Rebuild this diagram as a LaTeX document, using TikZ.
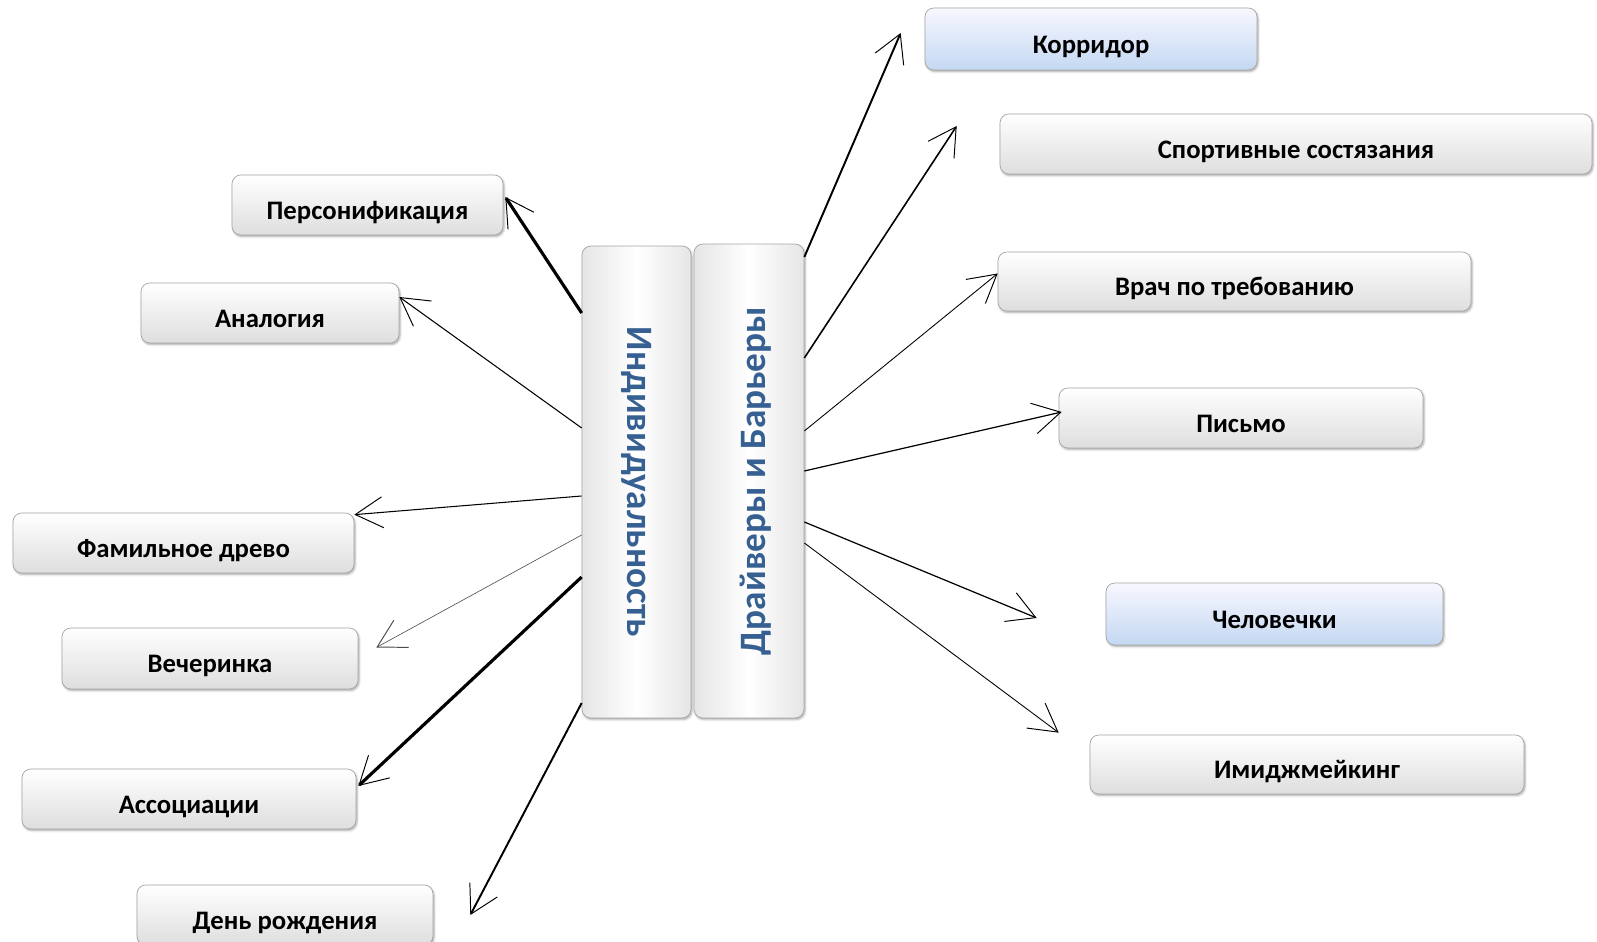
\documentclass[tikz,border=0pt]{standalone}
\usepackage{fontspec}
\setmainfont{Carlito}
\usetikzlibrary{arrows.meta,calc,shadows.blur}
\definecolor{titleblue}{RGB}{55,96,146}
\definecolor{paleblue}{RGB}{196,216,242}
\tikzset{
	item/.style={
			draw=black!35, rounded corners=5pt, top color=white, bottom color=black!13,
			blur shadow={shadow xshift=0.6pt, shadow yshift=-0.9pt, shadow blur radius=1.2pt, shadow opacity=35},
			inner sep=0pt, text height=16pt, text depth=0pt, font=\fontsize{15.2}{18}\selectfont\bfseries
		},
	marked/.style={item, top color=blue!3, bottom color=paleblue},
	column/.style={item, left color=black!10, right color=black!10, middle color=white,
			text height=, text depth=, text=titleblue, font=\fontsize{21.2}{25}\selectfont\bfseries},
	link/.style={-{Straight Barb[length=0.55cm, width=0.62cm, line width=0.55pt 0]}}
}

\begin{document}
\begin{tikzpicture}[x=0.02cm, y=-0.02cm]
			\useasboundingbox (0,0) rectangle (1597,942);

			% central columns
			\node[column, minimum width=2.18cm, minimum height=9.44cm] (indiv) at (636.5,482) {\rotatebox{-90}{Индивидуальность}\hspace{4pt}};
			\node[column, minimum width=2.2cm, minimum height=9.48cm] (drivers) at (749,481) {\hspace{8pt}\rotatebox{90}{Драйверы и Барьеры}};

			% left side
			\node[item, minimum width=5.42cm, minimum height=1.2cm] (person) at (367.5,205) {Персонификация};
			\node[item, minimum width=5.16cm, minimum height=1.2cm] (analog) at (270,313) {Аналогия};
			\node[item, minimum width=6.82cm, minimum height=1.2cm] (family) at (183.5,543) {Фамильное древо};
			\node[item, minimum width=5.92cm, minimum height=1.22cm] (party) at (210,658.5) {Вечеринка};
			\node[item, minimum width=6.68cm, minimum height=1.2cm] (assoc) at (189,799) {Ассоциации};
			\node[item, minimum width=5.92cm, minimum height=1.2cm] (bday) at (285,915) {День рождения};

			% right side
			\node[marked, minimum width=6.64cm, minimum height=1.24cm] (corridor) at (1091,39) {Корридор};
			\node[item, minimum width=11.84cm, minimum height=1.2cm] (sport) at (1296,144) {Спортивные состязания};
			\node[item, minimum width=9.46cm, minimum height=1.18cm] (doctor) at (1234.5,281.5) {Врач по требованию};
			\node[item, minimum width=7.28cm, minimum height=1.2cm] (letter) at (1241,418) {Письмо};
			\node[marked, minimum width=6.74cm, minimum height=1.24cm] (people) at (1274.5,614) {Человечки};
			\node[item, minimum width=8.68cm, minimum height=1.18cm] (image) at (1307,764.5) {Имиджмейкинг};

			\draw[link, line width=1.8pt] ($(indiv.west)+(0,-169)$) to ($(person.east)+(2,-8)$);
			\draw[link, line width=0.6pt] ($(indiv.west)+(0,-54)$) to ($(analog.east)+(0,-16)$);
			\draw[link, line width=0.6pt] ($(indiv.west)+(0,14)$) to ($(family.north east)+(0,2)$);
			\draw[link, line width=0.35pt, black!70] ($(indiv.west)+(0,53)$) to ($(party.east)+(18,-11)$);
			\draw[link, line width=1.8pt] ($(indiv.west)+(0,95)$) to ($(assoc.east)+(2,-13)$);
			\draw[link, line width=1.1pt] ($(indiv.west)+(0,221)$) to ($(bday.east)+(37,0)$);

			\draw[link, line width=1.1pt] ($(drivers.east)+(0,-224)$) to ($(corridor.west)+(-24,-6)$);
			\draw[link, line width=0.9pt] ($(drivers.east)+(0,-123)$) to ($(sport.west)+(-43,-18)$);
			\draw[link, line width=0.5pt] ($(drivers.east)+(0,-50)$) to ($(doctor.west)+(0,-8)$);
			\draw[link, line width=0.7pt] ($(drivers.east)+(0,-10)$) to ($(letter.west)+(3,-6)$);
			\draw[link, line width=0.7pt] ($(drivers.east)+(0,41)$) to ($(people.west)+(-69,4)$);
			\draw[link, line width=0.5pt] ($(drivers.east)+(0,62)$) to ($(image.north west)+(-31,-2)$);
		\end{tikzpicture}
\end{document}
